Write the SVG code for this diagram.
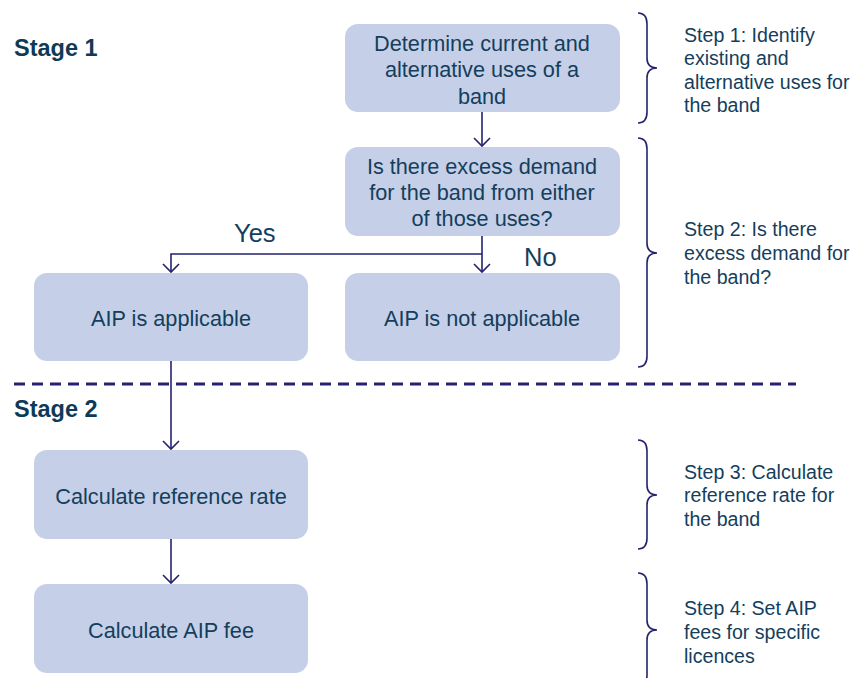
<svg xmlns="http://www.w3.org/2000/svg" width="854" height="678" viewBox="0 0 854 678">
<defs>
<style>
.box{fill:#c5d0e8;}
.t{font-family:"Liberation Sans",Arial,sans-serif;font-size:21.7px;fill:#143e5c;text-anchor:middle;}
.s{font-family:"Liberation Sans",Arial,sans-serif;font-size:19.6px;fill:#143e5c;}
.stage{font-family:"Liberation Sans",Arial,sans-serif;font-size:23.5px;font-weight:bold;fill:#0e3a58;}
.yn{font-family:"Liberation Sans",Arial,sans-serif;font-size:25.5px;fill:#143e5c;}
.c{fill:none;stroke:#25226e;stroke-width:1.6;}
.br{fill:none;stroke:#25226e;stroke-width:1.6;}
</style>
<marker id="arr" markerWidth="20" markerHeight="20" refX="10" refY="10" orient="auto" markerUnits="userSpaceOnUse">
<path d="M2,2 L10,10 L2,18" fill="none" stroke="#25226e" stroke-width="1.6"/>
</marker>
</defs>
<rect width="854" height="678" fill="#ffffff"/>

<text class="stage" x="14" y="56">Stage 1</text>
<text class="stage" x="14" y="417">Stage 2</text>

<g id="connectors">
<line class="c" x1="482" y1="112" x2="482" y2="146" marker-end="url(#arr)"/>
<line class="c" x1="482" y1="236" x2="482" y2="272" marker-end="url(#arr)"/>
<polyline class="c" points="482,254 171,254 171,272" marker-end="url(#arr)"/>
<line class="c" x1="171" y1="361" x2="171" y2="449" marker-end="url(#arr)"/>
<line class="c" x1="171" y1="539" x2="171" y2="583" marker-end="url(#arr)"/>
<text class="yn" x="234" y="242">Yes</text>
<text class="yn" x="524" y="266">No</text>
</g>

<line x1="14" y1="384" x2="796" y2="384" stroke="#25226e" stroke-width="3" stroke-dasharray="11,7"/>

<g id="n1">
<rect class="box" x="345" y="24" width="275" height="88" rx="13"/>
<text class="t" x="482" y="51">Determine current and</text>
<text class="t" x="482" y="77">alternative uses of a</text>
<text class="t" x="482" y="104">band</text>
</g>
<g id="n2">
<rect class="box" x="345" y="147" width="275" height="89" rx="13"/>
<text class="t" x="482" y="174">Is there excess demand</text>
<text class="t" x="482" y="200">for the band from either</text>
<text class="t" x="482" y="226">of those uses?</text>
</g>
<g id="n3">
<rect class="box" x="34" y="273" width="274" height="88" rx="13"/>
<text class="t" x="171" y="326">AIP is applicable</text>
</g>
<g id="n4">
<rect class="box" x="345" y="273" width="275" height="88" rx="13"/>
<text class="t" x="482" y="326">AIP is not applicable</text>
</g>
<g id="n5">
<rect class="box" x="34" y="450" width="274" height="89" rx="13"/>
<text class="t" x="171" y="504">Calculate reference rate</text>
</g>
<g id="n6">
<rect class="box" x="34" y="584" width="274" height="89" rx="13"/>
<text class="t" x="171" y="638">Calculate AIP fee</text>
</g>

<g id="step1">
<path class="br" d="M638,13 Q647,13 647,24 L647,58 Q647,68 657,68 Q647,68 647,78 L647,112 Q647,123 638,123"/>
<text class="s" x="684" y="42">Step 1: Identify</text>
<text class="s" x="684" y="65">existing and</text>
<text class="s" x="684" y="89">alternative uses for</text>
<text class="s" x="684" y="112">the band</text>
</g>
<g id="step2">
<path class="br" d="M638,138 Q647,138 647,149 L647,243 Q647,253 657,253 Q647,253 647,263 L647,356 Q647,367 638,367"/>
<text class="s" x="684" y="236">Step 2: Is there</text>
<text class="s" x="684" y="260">excess demand for</text>
<text class="s" x="684" y="284">the band?</text>
</g>
<g id="step3">
<path class="br" d="M638,440 Q647,440 647,451 L647,485 Q647,495 657,495 Q647,495 647,505 L647,538 Q647,549 638,549"/>
<text class="s" x="684" y="479">Step 3: Calculate</text>
<text class="s" x="684" y="502">reference rate for</text>
<text class="s" x="684" y="526">the band</text>
</g>
<g id="step4">
<path class="br" d="M638,573 Q647,573 647,584 L647,620 Q647,630 657,630 Q647,630 647,640 L647,675 Q647,686 638,686"/>
<text class="s" x="684" y="615">Step 4: Set AIP</text>
<text class="s" x="684" y="639">fees for specific</text>
<text class="s" x="684" y="663">licences</text>
</g>
</svg>
